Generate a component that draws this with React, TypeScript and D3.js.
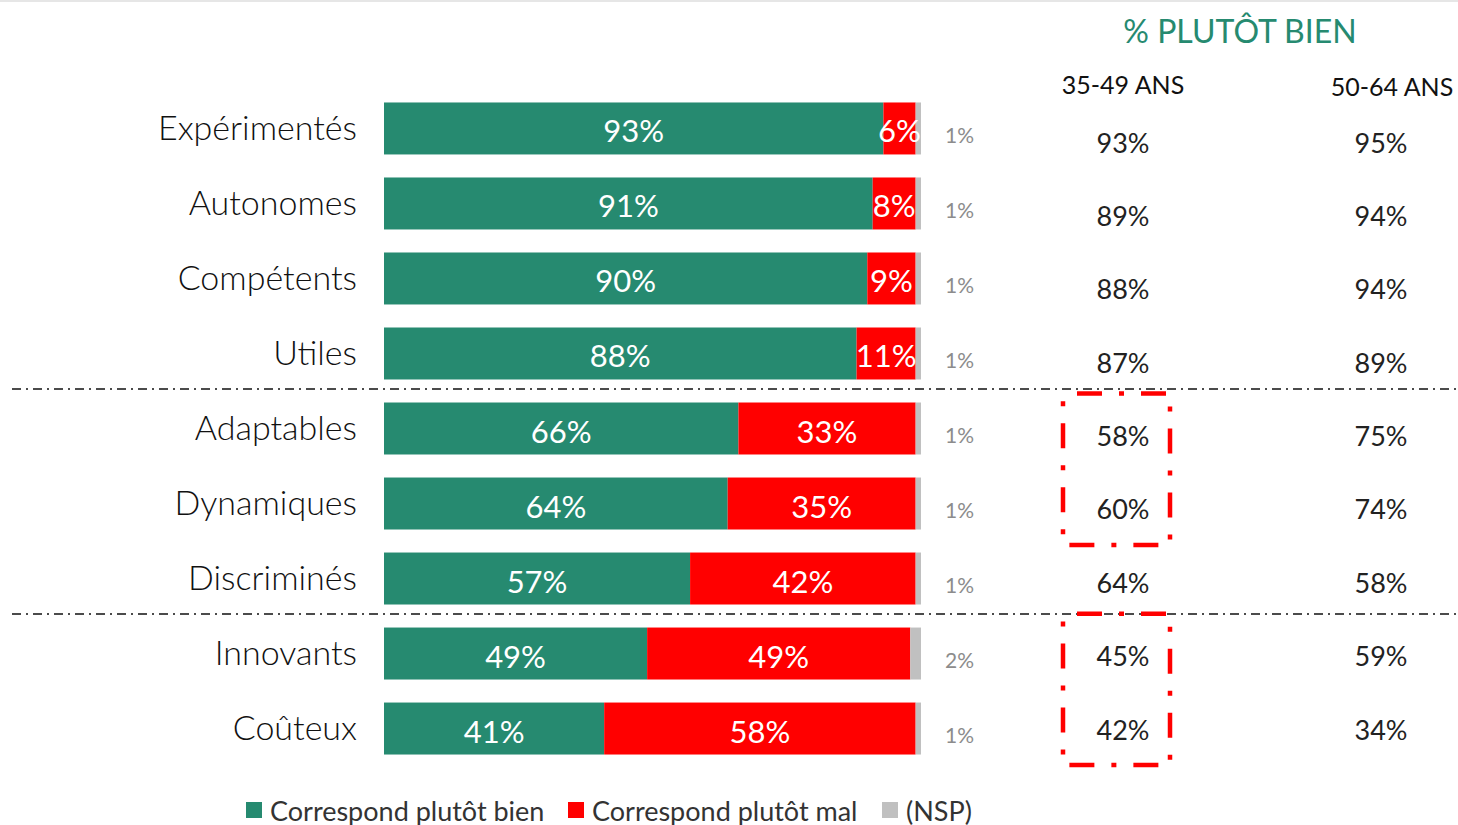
import React from "react";
import * as d3 from "d3";

const categories = ["Expérimentés", "Autonomes", "Compétents", "Utiles", "Adaptables", "Dynamiques", "Discriminés", "Innovants", "Coûteux"];
const bien = [93, 91, 90, 88, 66, 64, 57, 49, 41];
const mal = [6, 8, 9, 11, 33, 35, 42, 49, 58];
const nsp = [1, 1, 1, 1, 1, 1, 1, 2, 1];
const age3549 = [93, 89, 88, 87, 58, 60, 64, 45, 42];
const age5064 = [95, 94, 94, 89, 75, 74, 58, 59, 34];
const separatorsAfter = [3, 6];
const highlightGroups = [[4, 5], [7, 8]];
const legendItems = ["Correspond plutôt bien", "Correspond plutôt mal", "(NSP)"];

const GREEN = "#268a70";
const RED = "#ff0000";
const GRAY = "#c0c0c0";
const FONT = "Lato, 'Open Sans', sans-serif";

export default function App() {
  const W = 1458, H = 825;
  const x = d3.scaleLinear().domain([0, 100]).range([384, 921]);
  const y = d3.scaleBand<number>().domain(d3.range(categories.length)).range([91, 766]).paddingInner(0.307).paddingOuter(0.153);
  const yv = d3.scaleLinear().domain([0, categories.length - 1]).range([142, 729]);
  const colA = 1123, colB = 1381;
  const bh = y.bandwidth();

  const segs = categories.map((c, i) => [
    { x0: 0, x1: bien[i], v: bien[i], color: GREEN },
    { x0: bien[i], x1: bien[i] + mal[i], v: mal[i], color: RED },
    { x0: bien[i] + mal[i], x1: bien[i] + mal[i] + nsp[i], v: nsp[i], color: GRAY },
  ]);

  return (
    <svg width={W} height={H} style={{ position: "absolute", left: 0, top: 0, background: "#fff" }} fontFamily={FONT}>
      <line x1={0} x2={W} y1={1} y2={1} stroke="#e6e6e6" strokeWidth={2} />
      <text x={1240} y={30} textAnchor="middle" dominantBaseline="central" fill={GREEN} fontSize={32}>% PLUTÔT BIEN</text>
      <text x={colA} y={84} textAnchor="middle" dominantBaseline="central" fill="#111" fontSize={25}>35-49 ANS</text>
      <text x={1392} y={86} textAnchor="middle" dominantBaseline="central" fill="#111" fontSize={25}>50-64 ANS</text>

      {categories.map((c, i) => {
        const yc = (y(i) as number) + bh / 2;
        return (
          <g key={c}>
            <text x={357} y={yc - 2} textAnchor="end" dominantBaseline="central" fontSize={34} fontWeight={300} fill="#111">{c}</text>
            {segs[i].map((s, j) => (
              <rect key={j} x={x(s.x0)} y={y(i)} width={x(s.x1) - x(s.x0)} height={bh} fill={s.color} />
            ))}
            {segs[i].slice(0, 2).map((s, j) => (
              <text key={"t" + j} x={(x(s.x0) + x(s.x1)) / 2} y={yc + 2} textAnchor="middle" dominantBaseline="central" fill="#fff" fontSize={31}>{s.v}%</text>
            ))}
            <text x={945} y={yc + 6} dominantBaseline="central" fill="#8c8c8c" fontSize={21}>{nsp[i]}%</text>
            <text x={colA} y={yv(i)} textAnchor="middle" dominantBaseline="central" fill="#222" fontSize={27}>{age3549[i]}%</text>
            <text x={colB} y={yv(i)} textAnchor="middle" dominantBaseline="central" fill="#222" fontSize={27}>{age5064[i]}%</text>
          </g>
        );
      })}

      {separatorsAfter.map((k) => {
        const yy = ((y(k) as number) + bh + (y(k + 1) as number)) / 2 - 2;
        return <line key={k} x1={12} x2={W} y1={yy} y2={yy} stroke="#111" strokeWidth={1.6} strokeDasharray="9 5 2 5" />;
      })}

      {highlightGroups.map((g, k) => {
        const top = yv(g[0]) - 42;
        const bot = yv(g[1]) + 36;
        return (
          <rect key={k} x={colA - 60} y={top} width={107} height={bot - top} fill="none" stroke={RED} strokeWidth={4.5} strokeDasharray="25 17 5 17" strokeDashoffset={-14} />
        );
      })}

      {legendItems.map((t, k) => {
        const xs = [246, 568, 882][k];
        return (
          <g key={t}>
            <rect x={xs} y={802} width={16} height={16} fill={[GREEN, RED, GRAY][k]} />
            <text x={xs + 24} y={810} dominantBaseline="central" fontSize={27} fill="#333">{t}</text>
          </g>
        );
      })}
    </svg>
  );
}
